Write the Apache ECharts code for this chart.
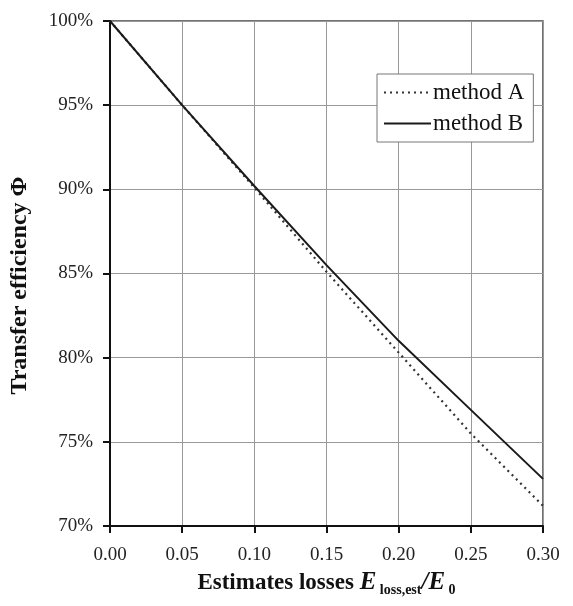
<!DOCTYPE html>
<html>
<head>
<meta charset="utf-8">
<script src="https://cdn.jsdelivr.net/npm/echarts@6/dist/echarts.min.js"></script>
<style>
  html, body { margin: 0; padding: 0; background: #fff; }
  #chart { width: 573px; height: 606px; }
</style>
</head>
<body>
<div id="chart"></div>
<script>
// Estimated loss ratio E_loss,est / E_0
const lossRatio = [0.00, 0.05, 0.10, 0.15, 0.20, 0.25, 0.30];
// Transfer efficiency (%) for the two estimation methods
const methodA = [100.0, 95.0, 90.1, 85.1, 80.3, 75.5, 71.2];
const methodB = [100.0, 95.0, 90.2, 85.5, 81.0, 76.9, 72.8];
const seriesNames = ['method A', 'method B'];

const serif = 'Liberation Serif';
const pairs = arr => lossRatio.map((x, i) => [x, arr[i]]);

const chart = echarts.init(document.getElementById('chart'));
chart.setOption({
  animation: false,
  backgroundColor: '#fff',
  textStyle: { fontFamily: serif },
  grid: {
    left: 110, top: 21, right: 30, bottom: 80,
    containLabel: false,
    outerBoundsMode: 'none',
    show: true, borderColor: '#444', borderWidth: 1.5
  },
  legend: {
    orient: 'vertical',
    left: 377, top: 74,
    padding: [7, 9, 7, 6],
    itemGap: 8,
    itemWidth: 47,
    itemHeight: 14,
    backgroundColor: '#fff',
    borderColor: '#777',
    borderWidth: 1,
    borderRadius: 0,
    itemStyle: { opacity: 0 },
    textStyle: { fontFamily: serif, fontSize: 23, lineHeight: 23, color: '#111', padding: [0, 0, 0, -3] },
    data: seriesNames
  },
  xAxis: {
    type: 'value',
    min: 0, max: 0.3, interval: 0.05,
    axisLine: { show: true, onZero: false, lineStyle: { color: '#111', width: 2 } },
    axisTick: { show: true, inside: false, length: 7, lineStyle: { color: '#111', width: 2 } },
    axisLabel: {
      margin: 20, fontFamily: serif, fontSize: 19, color: '#222',
      formatter: v => v.toFixed(2)
    },
    splitLine: { show: true, lineStyle: { color: '#999', width: 1 } },
    name: '{b|Estimates losses }{e|E}{s| loss,est}{e|/E}{s| 0}',
    nameLocation: 'middle',
    nameGap: 43,
    nameTextStyle: {
      rich: {
        b: { fontFamily: serif, fontSize: 23, fontWeight: 'bold', color: '#111' },
        e: { fontFamily: serif, fontSize: 25, fontWeight: 'bold', fontStyle: 'italic', color: '#111' },
        s: { fontFamily: serif, fontSize: 14, fontWeight: 'bold', color: '#111', padding: [14, 0, 0, 0] }
      }
    }
  },
  yAxis: {
    type: 'value',
    min: 70, max: 100, interval: 5,
    axisLine: { show: true, onZero: false, lineStyle: { color: '#111', width: 2 } },
    axisTick: { show: true, inside: false, length: 7, lineStyle: { color: '#111', width: 2 } },
    axisLabel: {
      margin: 17, fontFamily: serif, fontSize: 19, color: '#222',
      formatter: '{value}%'
    },
    splitLine: { show: true, lineStyle: { color: '#999', width: 1 } },
    name: 'Transfer efficiency Φ',
    nameLocation: 'middle',
    nameGap: 78,
    nameTextStyle: {
      fontFamily: serif, fontSize: 24, fontWeight: 'bold', color: '#111',
      padding: [0, 24, 0, 0]
    }
  },
  series: [
    {
      name: seriesNames[0],
      type: 'line',
      data: pairs(methodA),
      showSymbol: false,
      symbol: 'none',
      lineStyle: { color: '#333', width: 2.2, type: [2, 4] },
      itemStyle: { color: '#333' },
      z: 3
    },
    {
      name: seriesNames[1],
      type: 'line',
      data: pairs(methodB),
      showSymbol: false,
      symbol: 'none',
      lineStyle: { color: '#1a1a1a', width: 2 },
      itemStyle: { color: '#1a1a1a' },
      z: 4
    }
  ]
});
</script>
</body>
</html>
